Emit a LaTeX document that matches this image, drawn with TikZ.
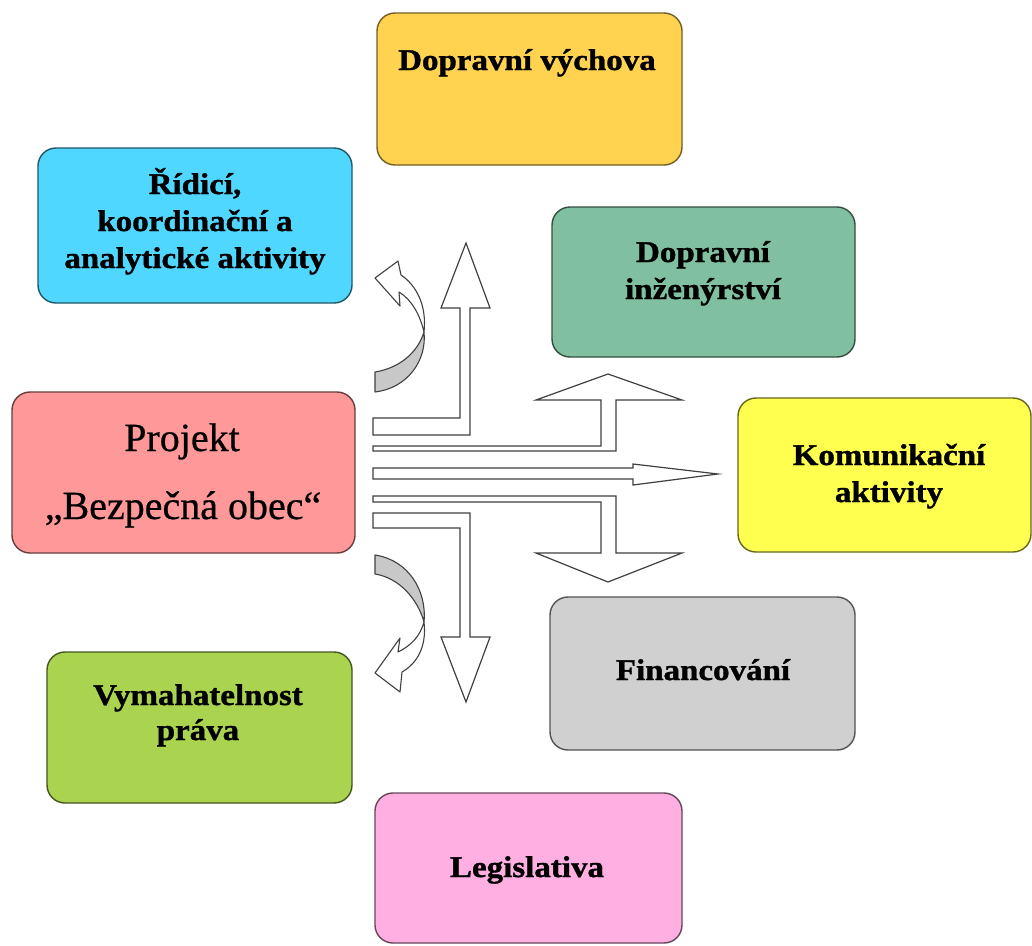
\documentclass[tikz,border=0pt]{standalone}
\usepackage{fontspec}
\setmainfont{Liberation Serif}
\newfontfamily\boxfont{Liberation Serif}[FakeStretch=1.1,BoldFeatures={FakeBold=1.2}]
\newfontfamily\projfont{Liberation Serif}[FakeBold=0.6]
\definecolor{cGold}{RGB}{255,210,80}
\definecolor{cCyan}{RGB}{80,215,255}
\definecolor{cTeal}{RGB}{128,192,160}
\definecolor{cRose}{RGB}{255,153,153}
\definecolor{cYel}{RGB}{255,255,80}
\definecolor{cGray}{RGB}{208,208,208}
\definecolor{cLime}{RGB}{170,212,80}
\definecolor{cPink}{RGB}{255,175,225}
\definecolor{cShade}{RGB}{200,200,200}
\begin{document}
\begin{tikzpicture}[x=1pt,y=-1pt,
  box/.style={rounded corners=18pt, line width=1.4pt, inner sep=0pt},
  lbl/.style={anchor=base, inner sep=0pt, font=\boxfont\bfseries\fontsize{30}{34}\selectfont},
  big/.style={anchor=base, inner sep=0pt, font=\projfont\fontsize{40}{46}\selectfont},
  blk/.style={draw=black!75, line width=1.2pt, fill=white, line join=miter},
  crv/.style={draw=black!75, line width=1.1pt, line join=round}]
\fill[white] (0,0) rectangle (1032,945);
\useasboundingbox (0,0) rectangle (1032,945);

% boxes
\node[box, fill=cGold, draw=cGold!45!black, minimum width=305pt, minimum height=152pt] (vych) at (529.5,89) {};
\node[box, fill=cCyan, draw=cCyan!40!black, minimum width=314pt, minimum height=155pt] (ridi) at (195,225.5) {};
\node[box, fill=cTeal, draw=cTeal!40!black, minimum width=303pt, minimum height=150pt] (inz) at (703.5,282) {};
\node[box, fill=cRose, draw=cRose!40!black, minimum width=343pt, minimum height=161pt] (proj) at (183.5,472.5) {};
\node[box, fill=cYel, draw=cYel!40!black, minimum width=293pt, minimum height=154pt] (kom) at (884.5,475) {};
\node[box, fill=cGray, draw=cGray!40!black, minimum width=305pt, minimum height=153pt] (fin) at (702.5,673.5) {};
\node[box, fill=cLime, draw=cLime!40!black, minimum width=305pt, minimum height=151pt] (vym) at (199.5,727.5) {};
\node[box, fill=cPink, draw=cPink!40!black, minimum width=307pt, minimum height=150pt] (leg) at (528.5,868) {};

% texts
\node[lbl] (t1) at (527,70) {Dopravní výchova};
\node[lbl] (t2a) at (195,194) {Řídicí,};
\node[lbl] (t2b) at (195,231) {koordinační a};
\node[lbl] (t2c) at (195,268) {analytické aktivity};
\node[lbl] (t3a) at (703,262) {Dopravní};
\node[lbl] (t3b) at (703,299) {inženýrství};
\node[big] (t4a) at (182,451) {Projekt};
\node[big] (t4b) at (183,519) {„Bezpečná obec“};
\node[lbl] (t5a) at (889,465) {Komunikační};
\node[lbl] (t5b) at (889,502) {aktivity};
\node[lbl] (t6) at (703,680) {Financování};
\node[lbl] (t7a) at (198,705) {Vymahatelnost};
\node[lbl] (t7b) at (198,740) {práva};
\node[lbl] (t8) at (527,877) {Legislativa};

% block arrows
\draw[blk] (373,418) -- (460,418) -- (460,308) -- (441,308) -- (466,243) -- (490,308) -- (470,308) -- (470,435) -- (373,435) -- cycle;
\draw[blk] (373,446) -- (601,446) -- (601,400) -- (536,400) -- (608,374) -- (682,400) -- (616,400) -- (616,451) -- (373,451) -- cycle;
\draw[blk] (373,468) -- (633,468) -- (633,464) -- (718,474) -- (633,485) -- (633,479) -- (373,479) -- cycle;
\draw[blk] (373,496) -- (616,496) -- (616,553) -- (682,553) -- (608,582) -- (536,553) -- (601,553) -- (601,502) -- (373,502) -- cycle;
\draw[blk] (373,513) -- (470,513) -- (470,637) -- (490,637) -- (466,702) -- (441,637) -- (460,637) -- (460,528) -- (373,528) -- cycle;

% curved arrows (upper)
\draw[crv, fill=cShade] (375,392) .. controls (408,388) and (427,360) .. (424,332)
   .. controls (418,352) and (400,368) .. (375,372) -- cycle;
\draw[crv, fill=white] (424,332) .. controls (427,305) and (416,285) .. (401,275)
   -- (398,261) -- (375,278) -- (400,306) -- (399,292)
   .. controls (412,300) and (420,315) .. (424,332) -- cycle;
% curved arrows (lower)
\draw[crv, fill=cShade] (375,555) .. controls (408,560) and (427,590) .. (424,622)
   .. controls (418,600) and (400,578) .. (375,574) -- cycle;
\draw[crv, fill=white] (424,622) .. controls (427,648) and (416,664) .. (402,672)
   -- (400,692) -- (375,673) -- (400,638) -- (398,652)
   .. controls (412,645) and (420,636) .. (424,622) -- cycle;
\end{tikzpicture}
\end{document}
